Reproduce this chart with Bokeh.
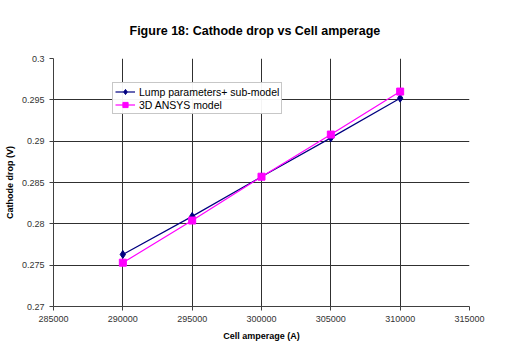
from bokeh.plotting import figure
from bokeh.models import FixedTicker, CustomJSTickFormatter, Legend, LegendItem, Range1d
from bokeh.embed import file_html
from bokeh.resources import INLINE

amperage = [290000, 295000, 300000, 305000, 310000]
lump_model = [0.2763, 0.2809, 0.2857, 0.2904, 0.2952]
ansys_model = [0.2753, 0.2804, 0.2857, 0.2908, 0.2960]
x_ticks = [285000, 290000, 295000, 300000, 305000, 310000, 315000]
y_ticks = [0.27, 0.275, 0.28, 0.285, 0.29, 0.295, 0.3]
title_text = "Figure 18: Cathode drop vs Cell amperage"

p = figure(width=509, height=348, output_backend="svg", toolbar_location=None,
           x_range=Range1d(285000, 315000), y_range=Range1d(0.27, 0.3),
           min_border_left=53, min_border_right=40, min_border_top=58, min_border_bottom=42)
p.outline_line_color = None
p.background_fill_color = "white"

p.title.text = title_text
p.title.align = "left"
p.title.offset = 76
p.title.text_font = "Liberation Sans"
p.title.text_font_size = "12.5px"
p.title.text_font_style = "bold"
p.title.text_color = "#000000"
p.title.standoff = 42

for ax, ticks, label in [(p.xaxis[0], x_ticks, "Cell amperage (A)"), (p.yaxis[0], y_ticks, "Cathode drop (V)")]:
    ax.ticker = FixedTicker(ticks=ticks)
    ax.axis_label = label
    ax.axis_label_text_font = "Liberation Sans"
    ax.axis_label_text_font_size = "9px"
    ax.axis_label_text_font_style = "bold"
    ax.axis_label_text_color = "#000000"
    ax.major_label_text_font = "Liberation Sans"
    ax.major_label_text_font_size = "9px"
    ax.major_label_text_color = "#333333"
    ax.axis_line_color = "#404040"
    ax.major_tick_line_color = "#404040"
    ax.major_tick_out = 4
    ax.major_tick_in = 0
    ax.minor_tick_line_color = None

p.xaxis[0].formatter = CustomJSTickFormatter(code="return tick.toFixed(0);")
p.yaxis[0].formatter = CustomJSTickFormatter(
    code="return tick.toFixed(3).replace(/0+$/, '').replace(/\\.$/, '');")
p.xaxis[0].axis_label_standoff = 6
p.yaxis[0].axis_label_standoff = 4

p.xgrid.ticker = FixedTicker(ticks=x_ticks)
p.ygrid.ticker = FixedTicker(ticks=y_ticks)
p.grid.grid_line_color = "#303030"
p.grid.grid_line_width = 1

l1 = p.line(amperage, lump_model, line_color="#000080", line_width=1.2)
s1 = p.scatter(amperage, lump_model, marker="diamond", size=8, fill_color="#000080", line_color="#000080")
l2 = p.line(amperage, ansys_model, line_color="#FF00FF", line_width=1.2)
s2 = p.scatter(amperage, ansys_model, marker="square", size=7, fill_color="#FF00FF", line_color="#FF00FF")

legend = Legend(items=[LegendItem(label="Lump parameters+ sub-model", renderers=[l1, s1]),
                       LegendItem(label="3D ANSYS model", renderers=[l2, s2])],
                location=(59, 192))
legend.label_text_font = "Liberation Sans"
legend.label_text_font_size = "10.5px"
legend.label_text_color = "#000000"
legend.border_line_color = "#909090"
legend.border_line_width = 1
legend.padding = 2
legend.spacing = 0
legend.margin = 0
legend.glyph_width = 20
legend.glyph_height = 13
legend.label_height = 13
legend.label_standoff = 4
p.add_layout(legend, "center")

open("out.html", "w").write(file_html(p, INLINE))
